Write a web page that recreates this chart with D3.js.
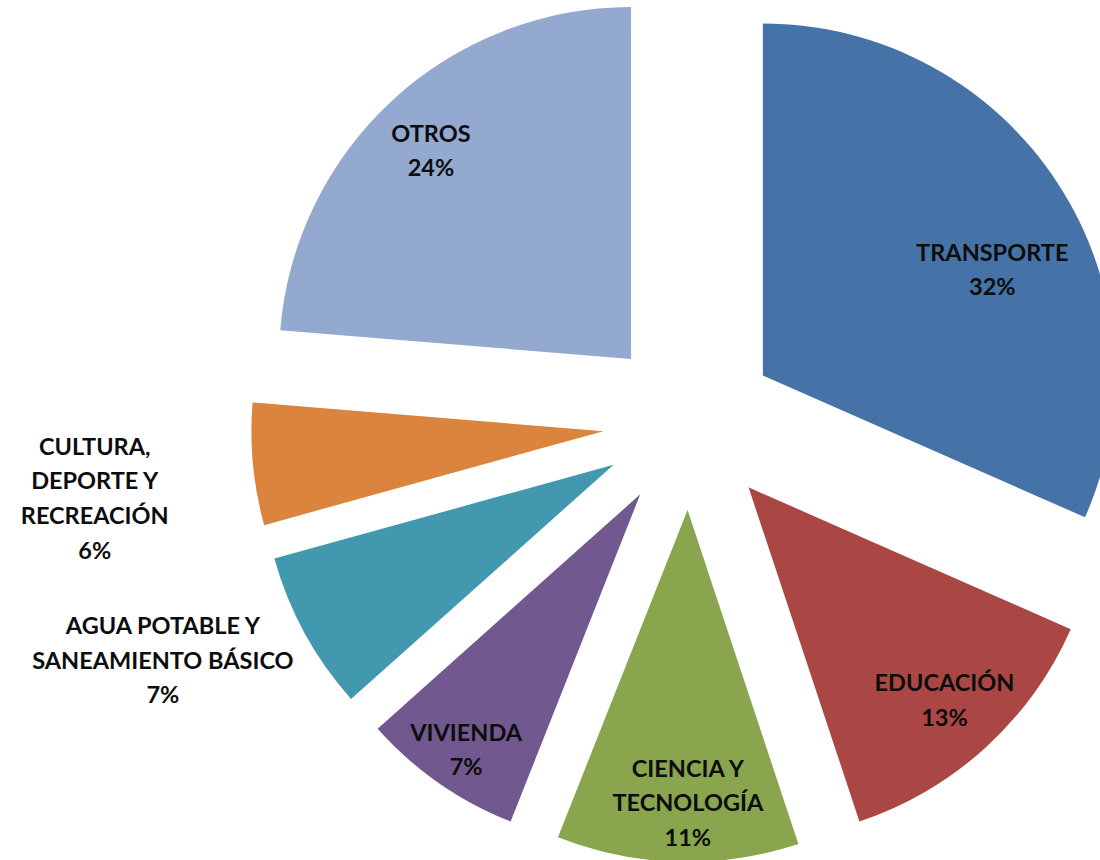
<!DOCTYPE html>
<html>
<head>
<meta charset="utf-8">
<script src="https://cdn.jsdelivr.net/npm/d3@7"></script>
<style>
  body { margin: 0; background: #fff; }
  .label { font-family: Lato, "Open Sans", sans-serif; font-weight: bold; font-size: 23.5px; fill: #0d0d0d; }
</style>
</head>
<body>
<div id="chart"></div>
<script>
// data (slice shares, labels show them rounded)
const categories = ["TRANSPORTE", "EDUCACIÓN", "CIENCIA Y TECNOLOGÍA", "VIVIENDA",
  "AGUA POTABLE Y SANEAMIENTO BÁSICO", "CULTURA, DEPORTE Y RECREACIÓN", "OTROS"];
const values = [31.6, 13.3, 11.1, 7.4, 7.3, 5.6, 23.7];
const labelLines = [
  ["TRANSPORTE"], ["EDUCACIÓN"], ["CIENCIA Y", "TECNOLOGÍA"], ["VIVIENDA"],
  ["AGUA POTABLE Y", "SANEAMIENTO BÁSICO"], ["CULTURA,", "DEPORTE Y", "RECREACIÓN"], ["OTROS"]
];
const colors = ["#4572a7", "#aa4643", "#89a54e", "#71588f", "#4198af", "#db843d", "#93a9cf"];

// label placement (distance from pie centre, angle nudge in degrees)
const labelDist = [339, 376, 380, 396, 578, 600, 376];
const labelNudge = [6.2, -0.3, -1.3, -0.5, 4.4, -1.8, -0.9];

const svgWidth = 1100, svgHeight = 860;
const cx = 690, cy = 423, radius = 352, explode = 87, lineH = 34.7;

let svg = d3.select("#chart").append("svg")
  .attr("width", svgWidth)
  .attr("height", svgHeight);

let g = svg.append("g")
  .attr("transform", `translate(${cx},${cy})`);

let pie = d3.pie().sort(null).value(d => d.value);
let arc = d3.arc().innerRadius(0).outerRadius(radius);

let data = categories.map((c, i) => ({ name: c, value: values[i], i: i }));
let arcs = pie(data);

function mid(d) { return (d.startAngle + d.endAngle) / 2; }

g.selectAll("path.slice")
  .data(arcs)
  .join("path")
  .attr("class", "slice")
  .attr("d", arc)
  .attr("fill", d => colors[d.data.i])
  .attr("transform", d => {
    let a = mid(d);
    return `translate(${explode * Math.sin(a)},${-explode * Math.cos(a)})`;
  });

let total = d3.sum(values);

let labels = g.selectAll("text.label")
  .data(arcs)
  .join("text")
  .attr("class", "label")
  .attr("text-anchor", "middle")
  .attr("transform", d => {
    let i = d.data.i;
    let a = mid(d) + labelNudge[i] * Math.PI / 180;
    let r = labelDist[i];
    return `translate(${r * Math.sin(a)},${-r * Math.cos(a)})`;
  });

labels.each(function (d) {
  let i = d.data.i;
  let lines = labelLines[i].concat([Math.round(d.data.value / total * 100) + "%"]);
  let t = d3.select(this);
  let y0 = -(lines.length - 1) * lineH / 2;
  lines.forEach((ln, k) => {
    t.append("tspan")
      .attr("x", 0)
      .attr("y", y0 + k * lineH)
      .attr("dy", "0.36em")
      .text(ln);
  });
});
</script>
</body>
</html>
